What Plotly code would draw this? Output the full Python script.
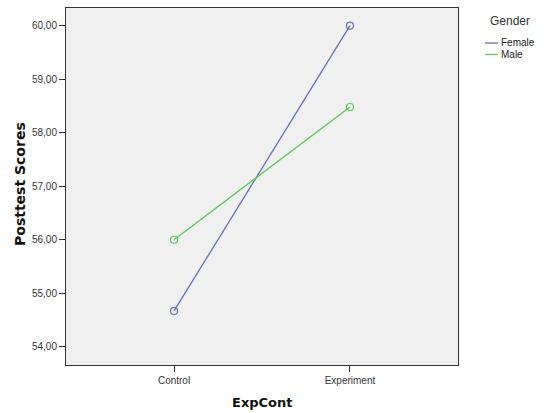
import plotly.graph_objects as go

groups = ["Control", "Experiment"]
female_scores = [54.67, 60.00]
male_scores = [56.00, 58.48]
series_names = ["Female", "Male"]
series_colors = ["#6770b5", "#5cc95c"]
legend_title = "Gender"
x_title = "ExpCont"
y_title = "Posttest Scores"

fig = go.Figure()
for name, vals, col in zip(series_names, [female_scores, male_scores], series_colors):
    fig.add_trace(go.Scatter(
        x=groups, y=vals, mode="lines", name=name, showlegend=False,
        line=dict(color=col, width=1.3),
    ))
    fig.add_trace(go.Scatter(
        x=groups, y=vals, mode="markers", showlegend=False,
        marker=dict(symbol="circle-open", size=7, color=col, line=dict(width=1.2)),
    ))

W, H = 555, 413
L, R, T, B = 66, 97, 8, 48
pw, ph = W - L - R, H - T - B

def px_x(x):
    return (x - L) / pw

def px_y(y):
    return 1 - (y - T) / ph

axis_font = dict(family="Liberation Sans, Arial, sans-serif", size=10, color="#333333")
title_font = dict(family="DejaVu Sans, sans-serif", size=13, color="#111111")

shapes = []
annotations = [
    dict(text="<b>%s</b>" % x_title, xref="paper", yref="paper", x=px_x(262), y=px_y(402),
         xanchor="center", yanchor="middle", showarrow=False, font=title_font),
    dict(text="<b>%s</b>" % y_title, xref="paper", yref="paper", x=px_x(20), y=px_y(184),
         xanchor="center", yanchor="middle", showarrow=False, textangle=-90,
         font=dict(family="DejaVu Sans, sans-serif", size=14, color="#111111")),
    dict(text=legend_title, xref="paper", yref="paper", x=px_x(510), y=px_y(21),
         xanchor="center", yanchor="middle", showarrow=False,
         font=dict(family="Liberation Sans, Arial, sans-serif", size=12, color="#333333")),
]
for i, (name, col) in enumerate(zip(series_names, series_colors)):
    yy = 43 + 11.5 * i
    shapes.append(dict(type="line", xref="paper", yref="paper",
                       x0=px_x(485), x1=px_x(498), y0=px_y(yy), y1=px_y(yy),
                       line=dict(color=col, width=1.3)))
    annotations.append(dict(text=name, xref="paper", yref="paper", x=px_x(499), y=px_y(yy),
                            xanchor="left", yanchor="middle", showarrow=False,
                            font=dict(family="Liberation Sans, Arial, sans-serif", size=10, color="#222222")))

fig.update_layout(
    width=W, height=H,
    margin=dict(l=L, r=R, t=T, b=B, autoexpand=False),
    paper_bgcolor="white",
    plot_bgcolor="#f0f0f0",
    separators=",.",
    font=axis_font,
    showlegend=False,
    xaxis=dict(
        range=[-0.614, 1.614], showgrid=False, zeroline=False, automargin=False,
        showline=True, mirror=True, linecolor="#333333", linewidth=1,
        ticks="outside", ticklen=6, tickcolor="#333333",
        tickfont=axis_font,
    ),
    yaxis=dict(
        range=[53.66, 60.33], showgrid=False, zeroline=False, automargin=False,
        showline=True, mirror=True, linecolor="#333333", linewidth=1,
        ticks="outside", ticklen=6, tickcolor="#333333",
        tickvals=[54, 55, 56, 57, 58, 59, 60], tickformat=".2f",
        tickfont=axis_font,
    ),
    shapes=shapes,
    annotations=annotations,
)

fig.write_html(
    "out.html",
    config={"displayModeBar": False},
    post_script="document.body.style.margin='0';document.body.style.overflow='hidden';",
)
